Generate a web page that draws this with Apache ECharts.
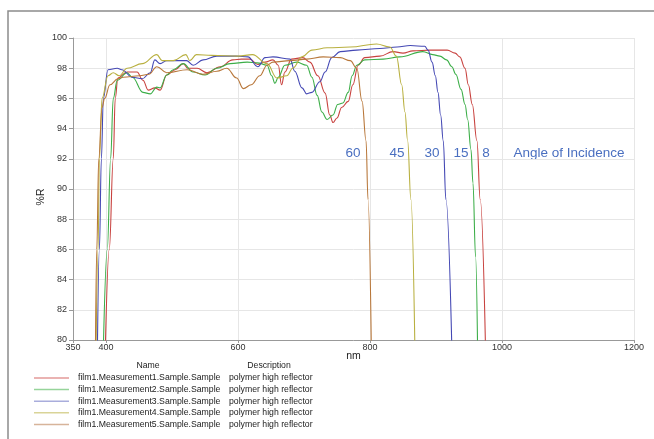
<!DOCTYPE html>
<html>
<head>
<meta charset="utf-8">
<script src="https://cdn.jsdelivr.net/npm/echarts@6/dist/echarts.min.js"></script>
<style>
  html, body { margin: 0; padding: 0; background: #fff; }
  #main { width: 654px; height: 439px; }
</style>
</head>
<body>
<div id="main"></div>
<script>
// [nm, %R]
const film8 = [[399,79.5],[405,86],[411,92],[414,96],[418,97.35],[432,97.75],[447,97.75],[456,97.2],[464,96.55],[474,96.7],[482,96.55],[492,97.55],[505,97.9],[517,98.3],[524,98.0],[538,98.0],[553,97.7],[573,98.1],[592,98.55],[605,98.6],[618,98.6],[630,98.25],[641,98.4],[653,98.55],[661,98.2],[666,96.9],[671,97.75],[681,98.6],[698,98.7],[709,98.4],[721,97.5],[732,96.35],[739,94.9],[744,94.4],[750,94.7],[757,95.4],[767,95.8],[774,96.9],[782,98.2],[792,98.7],[815,98.8],[835,99.1],[850,99.0],[865,99.15],[891,99.2],[917,99.2],[929,99.0],[936,98.75],[944,98.0],[949,96.9],[955,95.6],[962,93.2],[967,89.3],[975,79.5]];
const film15 = [[396,79.5],[402,86],[407,92],[411,96],[417,97.2],[432,97.7],[440,97.4],[456,96.4],[467,96.3],[477,96.75],[482,96.7],[492,97.55],[502,97.9],[517,98.3],[532,97.75],[550,97.55],[568,98.0],[588,98.3],[614,98.4],[629,98.35],[644,98.2],[651,97.5],[656,97.0],[661,97.4],[671,98.2],[689,98.4],[704,98.2],[712,97.4],[720,96.2],[727,95.1],[735,94.6],[744,94.9],[751,95.6],[759,95.7],[767,96.4],[773,97.5],[780,98.2],[792,98.55],[820,98.6],[845,98.75],[880,99.1],[895,98.9],[906,98.8],[916,98.55],[924,98.1],[930,97.6],[938,96.6],[944,95.6],[948,94.6],[953,92.6],[956,90.4],[960,85.5],[963,79.5]];
const film30 = [[387,79.5],[390,86],[393,92],[396,96],[403,97.9],[417,98.0],[424,97.9],[440,97.4],[455,97.3],[467,97.7],[474,98.55],[482,98.3],[492,98.5],[522,98.5],[532,98.2],[547,98.55],[568,98.8],[598,98.8],[615,98.75],[630,98.1],[641,98.7],[653,98.75],[679,98.6],[686,97.8],[697,96.7],[704,96.3],[712,96.4],[724,97.1],[732,97.75],[742,98.7],[755,99.1],[780,99.2],[815,99.3],[841,99.4],[861,99.5],[883,99.45],[888,99.2],[894,98.4],[899,97.5],[903,96.4],[907,94.9],[911,93.2],[915,89.3],[924,79.5]];
const film45 = [[385,79.5],[388,86],[390,92],[394,96],[403,97.5],[411,97.7],[420,97.5],[432,98.0],[455,98.3],[477,98.9],[485,98.5],[502,98.5],[521,98.9],[527,98.5],[537,98.9],[560,98.85],[600,98.8],[622,98.9],[644,98.3],[659,97.35],[674,97.5],[683,98.0],[697,98.75],[712,99.2],[735,99.35],[770,99.4],[810,99.6],[830,99.4],[840,98.8],[848,96.9],[853,95.1],[857,93.2],[862,89.3],[868,79.5]];
const film60 = [[384,79.5],[386,86],[389,92],[394,95.4],[398,96],[406,96.9],[418,97.3],[426,97.4],[451,97.5],[465,97.6],[477,98.1],[492,97.7],[523,97.9],[547,97.6],[568,97.8],[583,98.0],[598,97.35],[608,96.65],[620,96.9],[633,97.5],[644,98.2],[653,98.4],[679,98.5],[704,98.6],[729,98.75],[755,98.7],[770,98.5],[780,98.0],[788,95.8],[794,93.2],[797,89.3],[802,79.5]];

const names = ["film1.Measurement1.Sample.Sample", "film1.Measurement2.Sample.Sample", "film1.Measurement3.Sample.Sample", "film1.Measurement4.Sample.Sample", "film1.Measurement5.Sample.Sample"];
const description = "polymer high reflector";
const colors = ["#c8423f", "#3cae48", "#4448b4", "#b9b040", "#b8773a"];
const legendColors = ["#e39a98", "#96d49a", "#a9addc", "#d9d497", "#d7b49a"];
const xTicks = [350, 400, 600, 800, 1000, 1200];
const angles = ["60", "45", "30", "15", "8"];
const seriesData = [film8, film15, film30, film45, film60];

const chart = echarts.init(document.getElementById("main"));

const font = "Arial, 'Liberation Sans', sans-serif";
const angleX = [353, 397, 432, 461, 486];

let option = {
  animation: false,
  textStyle: { fontFamily: font },
  grid: { left: 73, right: 20, top: 38, bottom: 99 },
  xAxis: {
    type: "value",
    min: 350,
    max: 1200,
    name: "nm",
    nameLocation: "middle",
    nameGap: 11,
    nameMoveOverlap: false,
    nameTextStyle: { color: "#222", fontSize: 10.5 },
    axisLine: { lineStyle: { color: "#999" } },
    axisTick: { show: true, length: 3, customValues: xTicks, lineStyle: { color: "#999" } },
    axisLabel: { customValues: xTicks, color: "#333", fontSize: 9, margin: 3, formatter: (v) => String(v) },
    splitLine: { show: true, lineStyle: { color: "#e6e6e6" } },
  },
  yAxis: {
    type: "value",
    min: 80,
    max: 100,
    interval: 2,
    name: "%R",
    nameLocation: "middle",
    nameGap: 26,
    nameMoveOverlap: false,
    nameTextStyle: { color: "#222", fontSize: 10.5, padding: [0, 16, 0, 0] },
    axisLine: { show: true, lineStyle: { color: "#999" } },
    axisTick: { show: true, length: 4, lineStyle: { color: "#999" } },
    axisLabel: { color: "#333", fontSize: 9, margin: 6 },
    splitLine: { show: true, lineStyle: { color: "#e6e6e6" } },
  },
  legend: {
    orient: "vertical",
    left: 34,
    top: 373.5,
    padding: 0,
    itemWidth: 35,
    itemHeight: 1.5,
    itemGap: 2.6,
    icon: "rect",
    data: names.map((n, i) => ({
      name: n,
      itemStyle: { color: legendColors[i], borderWidth: 0 },
    })),
    formatter: (n) => "{n|" + n + "}{d|" + description + "}",
    textStyle: {
      rich: {
        n: { width: 151, padding: [0, 0, 0, 4], fontSize: 8.7, color: "#222", fontFamily: font },
        d: { fontSize: 8.7, color: "#222", fontFamily: font },
      },
    },
  },
  graphic: [
    { type: "rect", shape: { x: 8, y: 11, width: 700, height: 500 }, style: { fill: "none", stroke: "#8c8c8c", lineWidth: 1.5 }, silent: true },
    { type: "text", x: 148, y: 366, style: { text: "Name", fill: "#222", font: "8.7px " + font, textAlign: "center", textVerticalAlign: "middle" } },
    { type: "text", x: 269, y: 366, style: { text: "Description", fill: "#222", font: "8.7px " + font, textAlign: "center", textVerticalAlign: "middle" } },
    { type: "text", x: 569, y: 153, style: { text: "Angle of Incidence", fill: "#4a6fc0", font: "13.5px " + font, textAlign: "center", textVerticalAlign: "middle" } },
  ].concat(angles.map((a, i) => ({
    type: "text", x: angleX[i], y: 153,
    style: { text: a, fill: "#4a6fc0", font: "13.5px " + font, textAlign: "center", textVerticalAlign: "middle" },
  }))),
  series: seriesData.map((d, i) => ({
    name: names[i],
    type: "line",
    data: d,
    smooth: 0.4,
    smoothMonotone: "x",
    showSymbol: false,
    clip: true,
    lineStyle: { color: colors[i], width: 1.1 },
    itemStyle: { color: colors[i] },
  })),
};

chart.setOption(option);
</script>
</body>
</html>
